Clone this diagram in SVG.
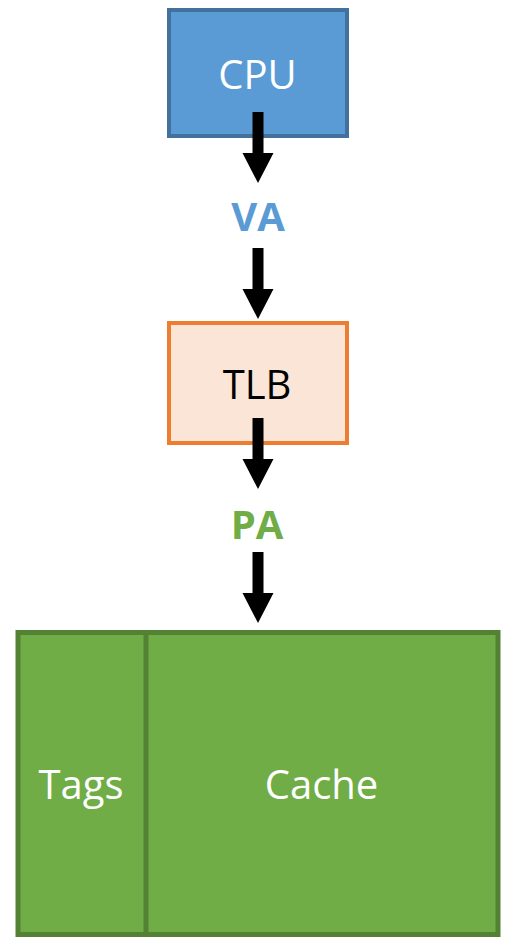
<svg xmlns="http://www.w3.org/2000/svg" width="512" height="937" viewBox="0 0 512 937">
<style>
.lbl{font-family:"Open Sans","Noto Sans",sans-serif;font-size:40px;text-anchor:middle}
.w{fill:#ffffff}
.b{font-weight:bold;font-size:40px}
</style>
<defs>
<path id="arr" d="M-5.5,0 H5.5 V41 H15.5 L0,71 L-15.5,41 H-5.5 Z" fill="#000000"/>
</defs>
<rect x="0" y="0" width="512" height="937" fill="#ffffff"/>
<g id="cpu">
<rect x="169" y="10" width="178" height="126" fill="#5B9BD5" stroke="#41719C" stroke-width="4"/>
<text class="lbl w" x="257.5" y="89">CPU</text>
</g>
<g id="tlb">
<rect x="169" y="323" width="178" height="120" fill="#FBE5D6" stroke="#ED7D31" stroke-width="4"/>
<text class="lbl" x="257" y="399" fill="#000000">TLB</text>
</g>
<g id="cache">
<rect x="18" y="632.5" width="480" height="302" fill="#70AD47" stroke="#548235" stroke-width="5"/>
<line x1="146" y1="632.5" x2="146" y2="934.5" stroke="#548235" stroke-width="5"/>
<text class="lbl w" x="81" y="799">Tags</text>
<text class="lbl w" x="321.5" y="799">Cache</text>
</g>
<g id="va">
<text class="lbl b" x="258" y="231" fill="#5B9BD5">VA</text>
</g>
<g id="pa">
<text class="lbl b" x="257" y="539" fill="#70AD47">PA</text>
</g>
<g id="connectors">
<use href="#arr" x="258" y="112"/>
<use href="#arr" x="258" y="248"/>
<use href="#arr" x="258" y="418"/>
<use href="#arr" x="258" y="552"/>
</g>
</svg>
